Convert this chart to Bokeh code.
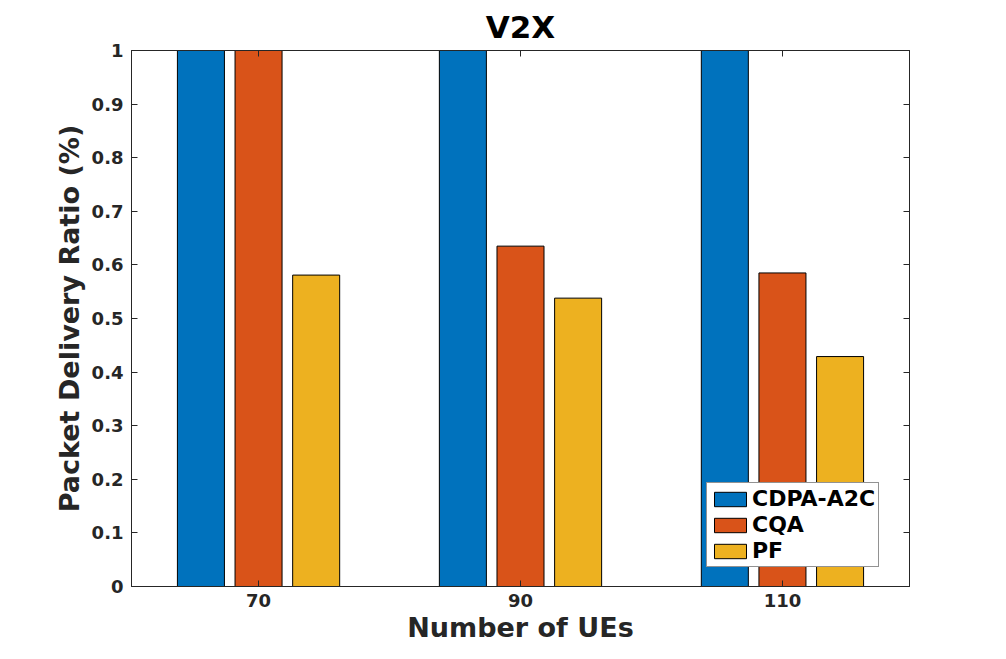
from bokeh.plotting import figure
from bokeh.models import (ColumnDataSource, Range1d, FixedTicker, LinearAxis,
                          NumeralTickFormatter, Legend, LegendItem, CustomJSTickFormatter)
from bokeh.transform import dodge
from bokeh.embed import file_html
from bokeh.resources import INLINE

# ---- data ----
categories = [70, 90, 110]
series_names = ["CDPA-A2C", "CQA", "PF"]
cdpa_a2c = [1.0, 1.0, 1.0]
cqa = [1.0, 0.635, 0.585]
pf = [0.581, 0.538, 0.429]
y_ticks = [0, 0.1, 0.2, 0.3, 0.4, 0.5, 0.6, 0.7, 0.8, 0.9, 1.0]

colors = ["#0072BD", "#D95319", "#EDB120"]
FONT = "DejaVu Sans"
AX = "#262626"

src = ColumnDataSource(dict(x=categories, a=cdpa_a2c, b=cqa, c=pf))

p = figure(width=990, height=646, output_backend="svg", toolbar_location=None,
           x_range=Range1d(60.3, 119.7), y_range=Range1d(0, 1),
           min_border_left=131, min_border_right=81, min_border_top=49,
           min_border_bottom=60)
p.title.text = "V2X"
p.title.align = "center"
p.title.text_font = FONT
p.title.text_font_size = "31px"
p.title.text_font_style = "bold"
p.title.text_color = "black"
p.title.offset = 0
p.title.standoff = 12

p.xgrid.visible = False
p.ygrid.visible = False
p.outline_line_color = AX
p.outline_line_width = 1
p.background_fill_color = "white"
p.border_fill_color = "white"

offset = 4.4
width = 3.59
fields = ["a", "b", "c"]
offs = [-offset, 0, offset]
renderers = []
for f, o, c in zip(fields, offs, colors):
    r = p.vbar(x=dodge("x", o), top=f, width=width, source=src,
               fill_color=c, line_color="black", line_width=1)
    renderers.append(r)

def style_axis(ax):
    ax.axis_line_color = AX
    ax.major_tick_line_color = AX
    ax.major_tick_in = 6
    ax.major_tick_out = 0
    ax.minor_tick_in = 0
    ax.minor_tick_out = 0
    ax.major_label_text_font = FONT
    ax.major_label_text_font_size = "18px"
    ax.major_label_text_font_style = "bold"
    ax.major_label_text_color = AX
    ax.axis_label_text_font = FONT
    ax.axis_label_text_font_size = "27px"
    ax.axis_label_text_font_style = "bold"
    ax.axis_label_text_color = AX

xt = FixedTicker(ticks=categories)
yt = FixedTicker(ticks=y_ticks)

p.xaxis.ticker = xt
p.yaxis.ticker = yt
p.yaxis.formatter = NumeralTickFormatter(format="0.[0]")
p.xaxis.axis_label = "Number of UEs"
p.yaxis.axis_label = "Packet Delivery Ratio (%)"
style_axis(p.xaxis[0])
style_axis(p.yaxis[0])
p.xaxis.major_label_standoff = 7
p.yaxis.major_label_standoff = 8
p.xaxis.axis_label_standoff = 2
p.yaxis.axis_label_standoff = 4

blank = CustomJSTickFormatter(code="return ''")
top = LinearAxis(ticker=xt, formatter=blank)
style_axis(top)
p.add_layout(top, "above")
right = LinearAxis(ticker=yt, formatter=blank)
style_axis(right)
p.add_layout(right, "right")

legend = Legend(items=[LegendItem(label=n, renderers=[r]) for n, r in zip(series_names, renderers)],
                location=(575, 19))
legend.label_text_font = FONT
legend.label_text_font_size = "22px"
legend.label_text_font_style = "bold"
legend.label_text_color = "black"
legend.border_line_color = AX
legend.border_line_width = 1
legend.background_fill_color = "white"
legend.background_fill_alpha = 1.0
legend.glyph_width = 40
legend.glyph_height = 18
legend.label_height = 20
legend.spacing = 1
legend.padding = 3
legend.margin = 0
legend.label_standoff = 2
p.add_layout(legend, "center")

open("out.html", "w").write(file_html(p, INLINE))
